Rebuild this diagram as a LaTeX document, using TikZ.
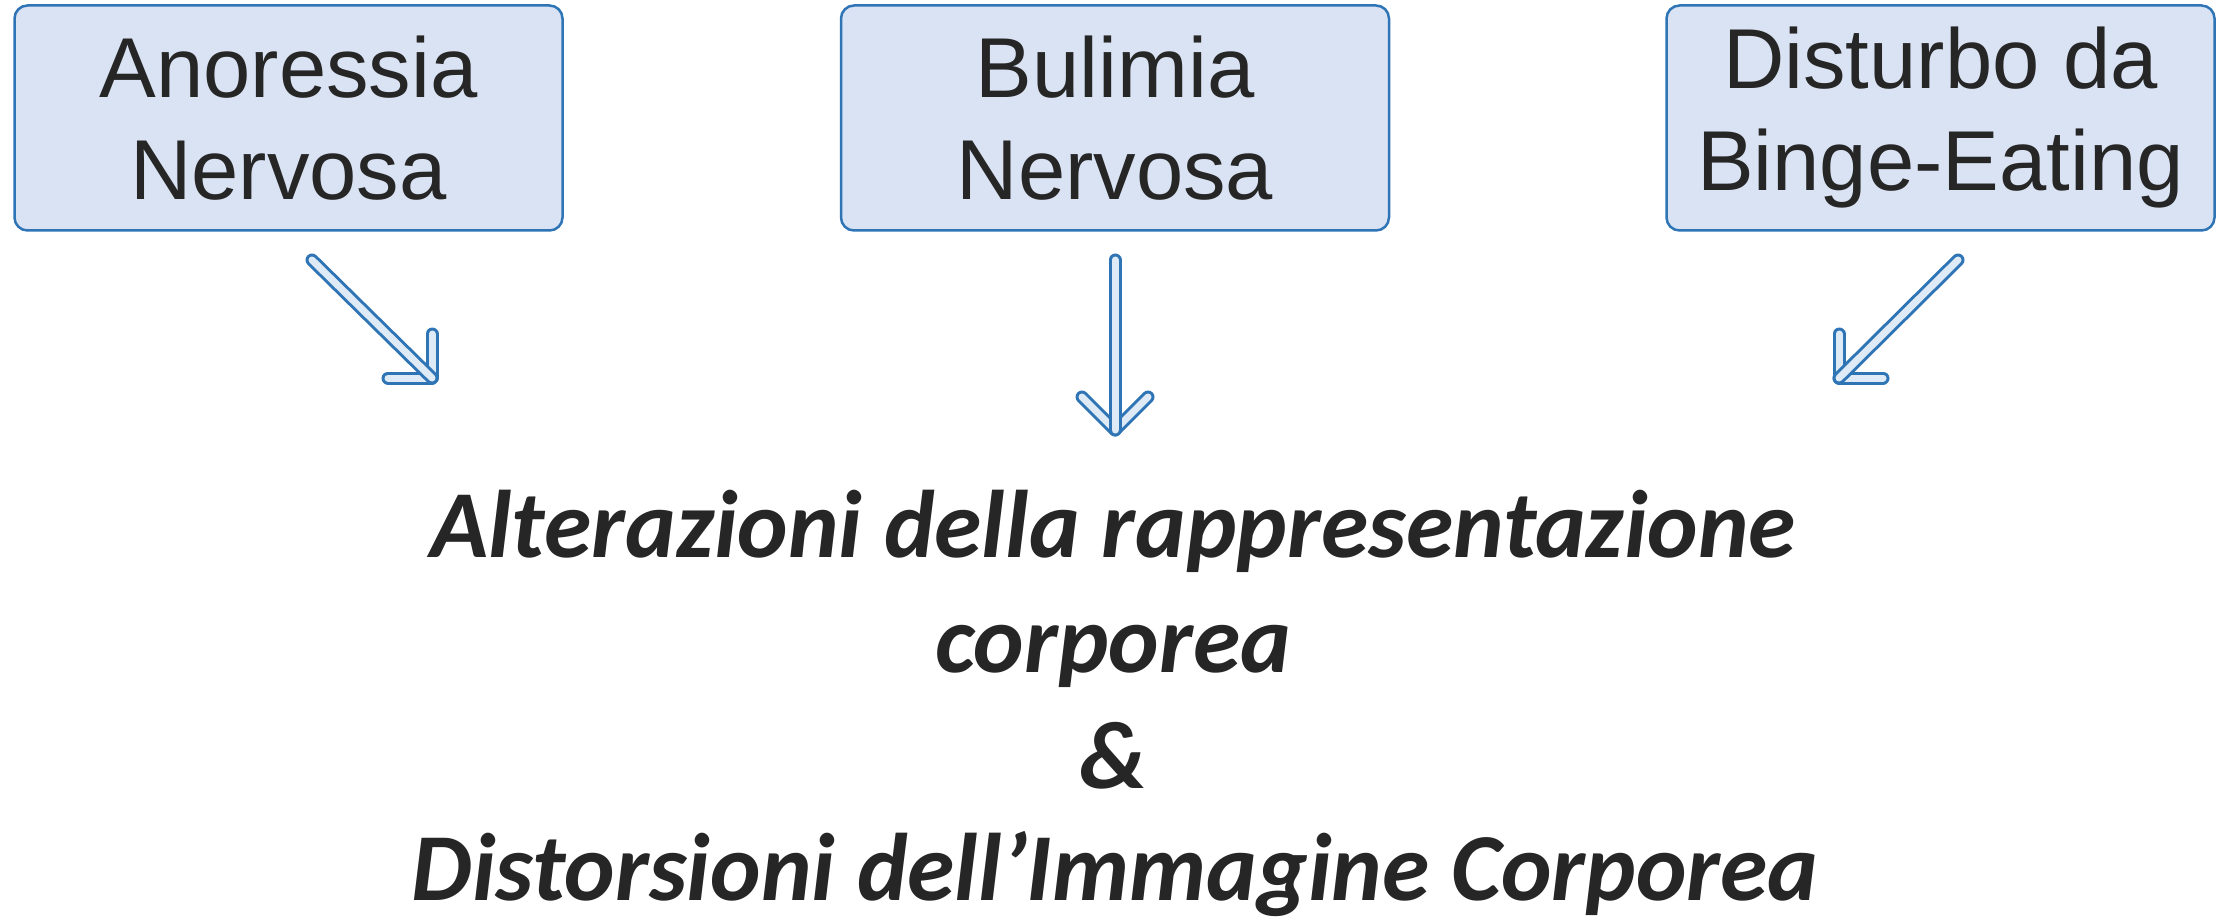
\documentclass[tikz,border=0pt]{standalone}
\usepackage{fontspec}
\setmainfont{Liberation Sans}
\newfontfamily\calfont{Carlito}
\definecolor{boxblue}{HTML}{2F75B5}
\definecolor{boxfill}{HTML}{DAE3F3}
\definecolor{arrfill}{HTML}{DEEBF7}
\definecolor{txt}{HTML}{262626}
\begin{document}
\begin{tikzpicture}[x=1pt,y=-1pt,
  cat/.style={draw=boxblue, line width=2.5pt, fill=boxfill, rounded corners=13pt,
    minimum width=548pt, minimum height=225pt, align=center, text=txt,
    font=\fontsize{85}{102}\selectfont, inner sep=0pt},
  outline/.style={draw=boxblue, line width=13pt, line cap=round, line join=round},
  inline/.style={draw=arrfill, line width=7pt, line cap=round, line join=round},
  big/.style={text=txt, font=\calfont\bfseries\itshape\fontsize{96}{115}\selectfont, anchor=base, inner sep=0pt}]
\useasboundingbox (0,0) rectangle (2224,917);
\node[cat] (an) at (288.5,118) {Anoressia\\Nervosa};
\node[cat] (bn) at (1115,118) {Bulimia\\Nervosa};
\node[cat] (bed) at (1940.5,118) {Disturbo da\\Binge-Eating};
\node[big] (l1) at (1113,557) {Alterazioni della rappresentazione};
\node[big] (l2) at (1113,672) {corporea};
\node[big] (l3) at (1113,788) {\&};
\node[big] (l4) at (1115,900) {Distorsioni dell’Immagine Corporea};
% arrow coordinates
\coordinate (a1s) at (312,260);
\coordinate (a1e) at (432,378);
\coordinate (a2s) at (1115,260);
\coordinate (a2e) at (1115,430);
\coordinate (a3s) at (1958,260);
\coordinate (a3e) at (1839,378);
% arrow 1
\draw[outline] (a1e) -- ++(0,-44) (a1e) -- ++(-44,0);
\draw[inline] (a1e) -- ++(0,-44) (a1e) -- ++(-44,0);
\draw[outline] (a1s) -- (a1e);
\draw[inline] (a1s) -- (a1e);
% arrow 2
\draw[outline] (a2e) -- ++(-33,-33) (a2e) -- ++(33,-33);
\draw[inline] (a2e) -- ++(-33,-33) (a2e) -- ++(33,-33);
\draw[outline] (a2s) -- (a2e);
\draw[inline] (a2s) -- (a2e);
% arrow 3
\draw[outline] (a3e) -- ++(0,-44) (a3e) -- ++(44,0);
\draw[inline] (a3e) -- ++(0,-44) (a3e) -- ++(44,0);
\draw[outline] (a3s) -- (a3e);
\draw[inline] (a3s) -- (a3e);
\end{tikzpicture}
\end{document}
